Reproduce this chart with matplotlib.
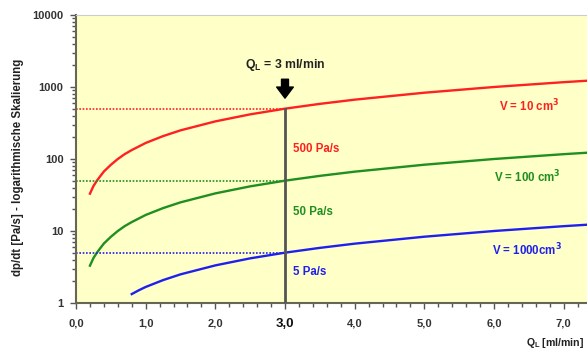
import matplotlib
matplotlib.use("Agg")
import matplotlib.pyplot as plt
from matplotlib.ticker import FixedLocator, FuncFormatter, LogLocator, NullFormatter

# flow rate Q_L [ml/min] and pressure rise dp/dt [Pa/s]
q_flow = [0.2, 0.25, 0.3, 0.35, 0.4, 0.5, 0.6, 0.7, 0.8, 1.0, 1.25, 1.5, 2.0, 2.5, 3.0, 3.5, 4.0, 5.0, 6.0, 7.0, 7.5]
dpdt_10 = [33, 42, 50, 58, 67, 83, 100, 117, 133, 167, 208, 250, 333, 417, 500, 583, 667, 833, 1000, 1167, 1250]
dpdt_100 = [3.3, 4.2, 5.0, 5.8, 6.7, 8.3, 10, 11.7, 13.3, 16.7, 20.8, 25, 33.3, 41.7, 50, 58.3, 66.7, 83.3, 100, 116.7, 125]
q_flow_1000 = [0.8, 0.9, 1.0, 1.25, 1.5, 2.0, 2.5, 3.0, 3.5, 4.0, 5.0, 6.0, 7.0, 7.5]
dpdt_1000 = [1.33, 1.5, 1.67, 2.08, 2.5, 3.33, 4.17, 5.0, 5.83, 6.67, 8.33, 10, 11.67, 12.5]

q_mark = 3.0
rates = [500, 50, 5]
rate_labels = ["500 Pa/s", "50 Pa/s", "5 Pa/s"]
vol_labels = ["V = 10 cm$^3$", "V = 100 cm$^3$", "V = 1000cm$^3$"]
colors = ["#ff2020", "#1f8f1f", "#2020ee"]

plt.rcParams["font.family"] = ["Liberation Sans", "DejaVu Sans"]
plt.rcParams["font.weight"] = "bold"

fig = plt.figure(figsize=(5.87, 3.49), dpi=100)
ax = fig.add_axes([76 / 587, 46 / 349, 1 - 76 / 587, 288 / 349])
ax.set_facecolor("#ffffc8")

ax.plot(q_flow, dpdt_10, color=colors[0], lw=1.7)
ax.plot(q_flow, dpdt_100, color=colors[1], lw=1.7)
ax.plot(q_flow_1000, dpdt_1000, color=colors[2], lw=1.7)

# dotted guide lines at Q_L = 3
for r, c in zip(rates, colors):
    ax.plot([0, q_mark], [r, r], color=c, lw=1.2, ls=(0, (1, 1)))
ax.plot([q_mark, q_mark], [1, rates[0]], color="#555555", lw=2, zorder=4)

ax.annotate("", xy=(q_mark, 640), xytext=(q_mark, 1400),
            arrowprops=dict(arrowstyle="simple,head_width=1.2,head_length=0.8,tail_width=0.5",
                            color="black"))
ax.text(q_mark, 2050, "Q$_\\mathregular{L}$ = 3 ml/min", ha="center", va="center",
        fontsize=8.8, fontweight="bold", color="#222222")

for r, lab, c, y in zip(rates, rate_labels, colors, [138, 18.4, 2.7]):
    ax.text(3.11, y, lab, color=c, fontsize=8.3, fontweight="bold", va="center")
for lab, c, x, y in zip(vol_labels, colors, [6.07, 6.0, 5.97], [540, 56, 5.4]):
    ax.text(x, y, lab, color=c, fontsize=8.3, fontweight="bold", va="center")

ax.set_yscale("log")
ax.set_ylim(1, 10000)
ax.set_xlim(0, 511 / (209 / 3.0))
ax.xaxis.set_major_locator(FixedLocator([0, 1, 2, 3, 4, 5, 6, 7]))
ax.xaxis.set_minor_locator(FixedLocator([i * 0.2 for i in range(37)]))
ax.xaxis.set_major_formatter(FuncFormatter(lambda v, p: f"{v:.1f}".replace(".", ",")))
ax.yaxis.set_major_locator(LogLocator(base=10, numticks=10))
ax.yaxis.set_minor_locator(LogLocator(base=10, subs=range(2, 10), numticks=10))
ax.yaxis.set_minor_formatter(NullFormatter())
ax.yaxis.set_major_formatter(FuncFormatter(lambda v, p: f"{v:.0f}"))

ax.tick_params(which="both", direction="out", colors="#555555", labelcolor="#333333",
               labelsize=8)
ax.tick_params(which="major", length=4, width=1)
ax.tick_params(which="minor", length=3, width=1)
ax.tick_params(axis="x", pad=7)
ax.tick_params(axis="y", pad=5)
for lab in ax.get_xticklabels() + ax.get_yticklabels():
    lab.set_fontweight("bold")
ax.get_xticklabels()[3].set_fontsize(9.5)
ax.get_xticklabels()[3].set_color("#111111")

ax.spines["left"].set_color("#666655")
ax.spines["left"].set_linewidth(1.5)
ax.spines["bottom"].set_color("#666655")
ax.spines["bottom"].set_linewidth(1.5)
ax.spines["top"].set_color("#cccccc")
ax.spines["right"].set_visible(False)

fig.text(18 / 587, 1 - 167 / 349, "dp/dt [Pa/s] - logarithmische Skalierung", rotation=90,
         ha="center", va="center", fontsize=8.3, fontweight="bold", color="#222222")
fig.text(584 / 587, 1 - 343 / 349, "Q$_\\mathregular{L}$ [ml/min]", ha="right", va="center",
         fontsize=7.6, fontweight="bold", color="#222222")

fig.savefig("out.png", dpi=100)
